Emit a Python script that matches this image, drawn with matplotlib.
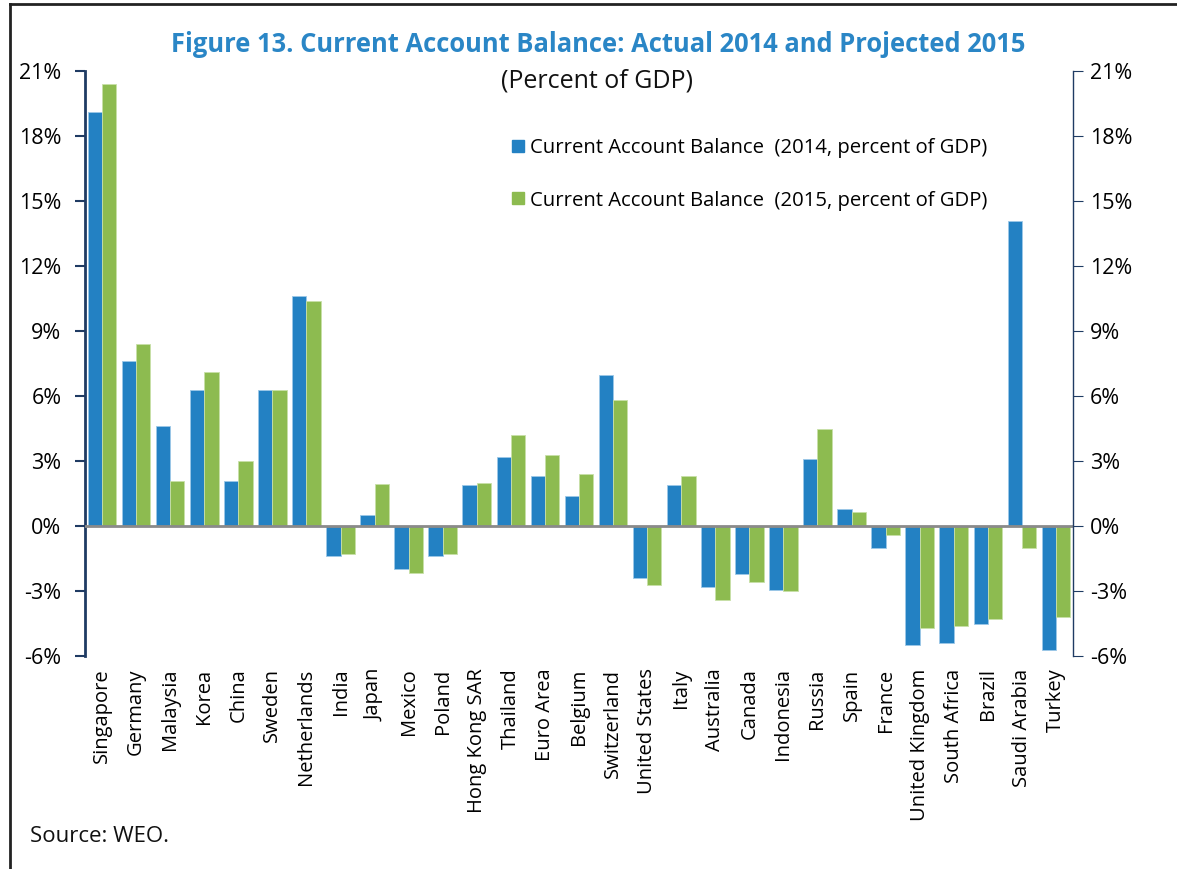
import matplotlib
matplotlib.use("Agg")
import matplotlib.pyplot as plt
import numpy as np
from matplotlib.lines import Line2D
from matplotlib.ticker import FuncFormatter

plt.rcParams['font.family'] = ['Open Sans', 'DejaVu Sans']

countries = ["Singapore", "Germany", "Malaysia", "Korea", "China", "Sweden", "Netherlands",
             "India", "Japan", "Mexico", "Poland", "Hong Kong SAR", "Thailand", "Euro Area",
             "Belgium", "Switzerland", "United States", "Italy", "Australia", "Canada",
             "Indonesia", "Russia", "Spain", "France", "United Kingdom", "South Africa",
             "Brazil", "Saudi Arabia", "Turkey"]
ca_2014 = [19.1, 7.6, 4.6, 6.3, 2.1, 6.3, 10.6, -1.4, 0.5, -2.0, -1.4, 1.9, 3.2, 2.3,
           1.4, 6.95, -2.4, 1.9, -2.8, -2.2, -2.95, 3.1, 0.8, -1.0, -5.5, -5.4,
           -4.5, 14.1, -5.7]
ca_2015 = [20.4, 8.4, 2.1, 7.1, 3.0, 6.3, 10.4, -1.3, 1.95, -2.15, -1.3, 2.0, 4.2, 3.3,
           2.4, 5.8, -2.7, 2.3, -3.4, -2.6, -3.0, 4.5, 0.65, -0.4, -4.7, -4.6,
           -4.3, -1.0, -4.2]
yticks = [-6, -3, 0, 3, 6, 9, 12, 15, 18, 21]
legend_labels = ["Current Account Balance  (2014, percent of GDP)",
                 "Current Account Balance  (2015, percent of GDP)"]

blue = "#2381C3"
green = "#8DBB50"
navy = "#1F3B63"

fig = plt.figure(figsize=(11.77, 8.69), dpi=100)
ax = fig.add_axes([85/1177, 1-656/869, (1073-85)/1177, (656-71)/869])

x = np.arange(len(countries))
w = 0.42
ax.bar(x - w/2, ca_2014, width=w, color=blue, edgecolor="#9CC8E8", linewidth=0.6, zorder=2)
ax.bar(x + w/2, ca_2015, width=w, color=green, edgecolor="#C8E0A8", linewidth=0.6, zorder=2)
ax.axhline(0, color="#8A8A8A", linewidth=2, zorder=3)

ax.set_xlim(-0.5, len(countries) - 0.5)
ax.set_ylim(-6, 21)
ax.set_yticks(yticks)
fmt = FuncFormatter(lambda v, p: f"{int(v)}%")
ax.yaxis.set_major_formatter(fmt)
ax.tick_params(axis='y', direction='out', length=7, width=1.5, color=navy, labelsize=15.5, pad=10)
ax.set_xticks(x)
ax.set_xticklabels(countries, rotation=90, fontsize=14.5)
ax.tick_params(axis='x', length=0, pad=9)

for s in ['top', 'bottom', 'right']:
    ax.spines[s].set_visible(False)
ax.spines['left'].set_color(navy)
ax.spines['left'].set_linewidth(2)

ax2 = ax.twinx()
ax2.set_ylim(-6, 21)
ax2.set_yticks(yticks)
ax2.yaxis.set_major_formatter(fmt)
ax2.tick_params(axis='y', direction='out', length=7, width=0.8, color=navy, labelsize=15.5, pad=5)
for s in ['top', 'bottom', 'left']:
    ax2.spines[s].set_visible(False)
ax2.spines['right'].set_color(navy)
ax2.spines['right'].set_linewidth(1)

fig.text(598/1177, 1-45/869, "Figure 13. Current Account Balance: Actual 2014 and Projected 2015",
         ha='center', va='center', fontsize=18.4, fontweight='bold', color="#2A86C6")
fig.text(597/1177, 1-81/869, "(Percent of GDP)", ha='center', va='center', fontsize=18, color="#111111")

handles = [Line2D([], [], marker='s', linestyle='none', markersize=8, color=blue),
           Line2D([], [], marker='s', linestyle='none', markersize=8, color=green)]
ax.legend(handles, legend_labels, loc='upper left', bbox_to_anchor=((502-85)/988, (656-130)/585),
          frameon=False, fontsize=14.6, handlelength=0.8, handletextpad=0.2, labelspacing=1.6,
          borderaxespad=0)

fig.text(30/1177, 1-836/869, "Source: WEO.", ha='left', va='center', fontsize=16, color="#111111")

fig.add_artist(Line2D([10/1177, 10/1177], [0, 1-4/869], color='#222222', linewidth=2))
fig.add_artist(Line2D([10/1177, 1], [1-4/869, 1-4/869], color='#222222', linewidth=2))

fig.savefig("out.png", dpi=100)
